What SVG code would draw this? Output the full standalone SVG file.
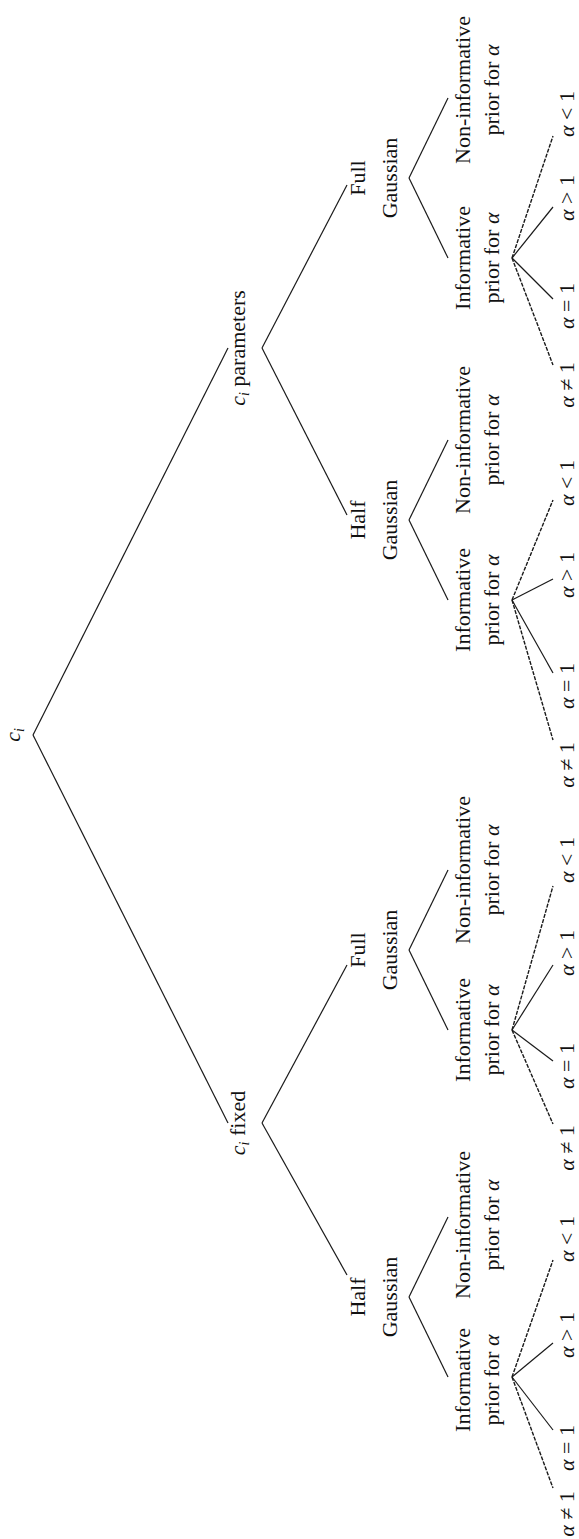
<svg xmlns="http://www.w3.org/2000/svg" width="579" height="1539" viewBox="0 0 579 1539">
<style>
text{font-family:"Liberation Serif","Times New Roman",serif;font-size:22px;fill:#111;text-anchor:middle}
.it{font-style:italic}
.sub{font-size:14px;font-style:italic}
line{stroke:#1a1a1a;stroke-width:1.2;fill:none}
.dsh{stroke-dasharray:4 1.3;stroke-width:1.4}
</style>
<rect width="579" height="1539" fill="#fff"/>
<g id="connectors">
<line x1="33" y1="735" x2="228" y2="348"/>
<line x1="33" y1="735" x2="228" y2="1123"/>
<line x1="262" y1="348" x2="347" y2="185"/>
<line x1="262" y1="348" x2="347" y2="515"/>
<line x1="262" y1="1123" x2="347" y2="965"/>
<line x1="262" y1="1123" x2="347" y2="1275"/>
<!-- group D G=178 F=258 -->
<line x1="409" y1="178" x2="448" y2="98"/>
<line x1="409" y1="178" x2="448" y2="258"/>
<line class="dsh" x1="512" y1="258" x2="553" y2="365"/>
<line x1="512" y1="258" x2="553" y2="299"/>
<line x1="512" y1="258" x2="553" y2="207"/>
<line class="dsh" x1="512" y1="258" x2="553" y2="136"/>
<!-- group C G=520 F=600 -->
<line x1="409" y1="520" x2="448" y2="440"/>
<line x1="409" y1="520" x2="448" y2="600"/>
<line class="dsh" x1="512" y1="600" x2="553" y2="740"/>
<line x1="512" y1="600" x2="553" y2="673"/>
<line x1="512" y1="600" x2="553" y2="579"/>
<line class="dsh" x1="512" y1="600" x2="553" y2="500"/>
<!-- group B G=950 F=1030 -->
<line x1="409" y1="950" x2="448" y2="870"/>
<line x1="409" y1="950" x2="448" y2="1030"/>
<line class="dsh" x1="512" y1="1030" x2="553" y2="1124"/>
<line x1="512" y1="1030" x2="553" y2="1061"/>
<line x1="512" y1="1030" x2="553" y2="965"/>
<line class="dsh" x1="512" y1="1030" x2="553" y2="886"/>
<!-- group A G=1297 F=1377 -->
<line x1="409" y1="1297" x2="448" y2="1217"/>
<line x1="409" y1="1297" x2="448" y2="1377"/>
<line class="dsh" x1="512" y1="1377" x2="553" y2="1488"/>
<line x1="512" y1="1377" x2="553" y2="1430"/>
<line x1="512" y1="1377" x2="553" y2="1343"/>
<line class="dsh" x1="512" y1="1377" x2="553" y2="1260"/>
</g>
<g id="root"><text transform="translate(20,735) rotate(-90)"><tspan class="it">c</tspan><tspan class="sub" dy="4">i</tspan></text></g>
<g id="ci-parameters"><text transform="translate(245,348) rotate(-90)"><tspan class="it">c</tspan><tspan class="sub" dy="4">i</tspan><tspan dy="-4"> parameters</tspan></text></g>
<g id="ci-fixed"><text transform="translate(245,1123) rotate(-90)"><tspan class="it">c</tspan><tspan class="sub" dy="4">i</tspan><tspan dy="-4"> fixed</tspan></text></g>
<g id="params-full"><text transform="translate(365,178) rotate(-90)">Full</text><text transform="translate(397,178) rotate(-90)">Gaussian</text></g>
<g id="params-half"><text transform="translate(365,520) rotate(-90)">Half</text><text transform="translate(397,520) rotate(-90)">Gaussian</text></g>
<g id="fixed-full"><text transform="translate(365,950) rotate(-90)">Full</text><text transform="translate(397,950) rotate(-90)">Gaussian</text></g>
<g id="fixed-half"><text transform="translate(365,1297) rotate(-90)">Half</text><text transform="translate(397,1297) rotate(-90)">Gaussian</text></g>
<g id="D-inf"><text transform="translate(470,258) rotate(-90)">Informative</text><text transform="translate(499,258) rotate(-90)">prior for <tspan class="it">α</tspan></text></g>
<g id="D-noninf"><text transform="translate(470,90) rotate(-90)">Non-informative</text><text transform="translate(499,90) rotate(-90)">prior for <tspan class="it">α</tspan></text></g>
<g id="C-inf"><text transform="translate(470,600) rotate(-90)">Informative</text><text transform="translate(499,600) rotate(-90)">prior for <tspan class="it">α</tspan></text></g>
<g id="C-noninf"><text transform="translate(470,440) rotate(-90)">Non-informative</text><text transform="translate(499,440) rotate(-90)">prior for <tspan class="it">α</tspan></text></g>
<g id="B-inf"><text transform="translate(470,1030) rotate(-90)">Informative</text><text transform="translate(499,1030) rotate(-90)">prior for <tspan class="it">α</tspan></text></g>
<g id="B-noninf"><text transform="translate(470,870) rotate(-90)">Non-informative</text><text transform="translate(499,870) rotate(-90)">prior for <tspan class="it">α</tspan></text></g>
<g id="A-inf"><text transform="translate(470,1380) rotate(-90)">Informative</text><text transform="translate(499,1380) rotate(-90)">prior for <tspan class="it">α</tspan></text></g>
<g id="A-noninf"><text transform="translate(470,1225) rotate(-90)">Non-informative</text><text transform="translate(499,1225) rotate(-90)">prior for <tspan class="it">α</tspan></text></g>
<g id="leaves-D">
<text transform="translate(574,385) rotate(-90)"><tspan class="it">α</tspan> ≠ 1</text>
<text transform="translate(574,306) rotate(-90)"><tspan class="it">α</tspan> = 1</text>
<text transform="translate(574,198) rotate(-90)"><tspan class="it">α</tspan> &gt; 1</text>
<text transform="translate(574,114) rotate(-90)"><tspan class="it">α</tspan> &lt; 1</text>
</g>
<g id="leaves-C">
<text transform="translate(574,765) rotate(-90)"><tspan class="it">α</tspan> ≠ 1</text>
<text transform="translate(574,686) rotate(-90)"><tspan class="it">α</tspan> = 1</text>
<text transform="translate(574,575) rotate(-90)"><tspan class="it">α</tspan> &gt; 1</text>
<text transform="translate(574,483) rotate(-90)"><tspan class="it">α</tspan> &lt; 1</text>
</g>
<g id="leaves-B">
<text transform="translate(574,1148) rotate(-90)"><tspan class="it">α</tspan> ≠ 1</text>
<text transform="translate(574,1066) rotate(-90)"><tspan class="it">α</tspan> = 1</text>
<text transform="translate(574,953) rotate(-90)"><tspan class="it">α</tspan> &gt; 1</text>
<text transform="translate(574,860) rotate(-90)"><tspan class="it">α</tspan> &lt; 1</text>
</g>
<g id="leaves-A">
<text transform="translate(574,1514) rotate(-90)"><tspan class="it">α</tspan> ≠ 1</text>
<text transform="translate(574,1448) rotate(-90)"><tspan class="it">α</tspan> = 1</text>
<text transform="translate(574,1335) rotate(-90)"><tspan class="it">α</tspan> &gt; 1</text>
<text transform="translate(574,1239) rotate(-90)"><tspan class="it">α</tspan> &lt; 1</text>
</g>
</svg>
